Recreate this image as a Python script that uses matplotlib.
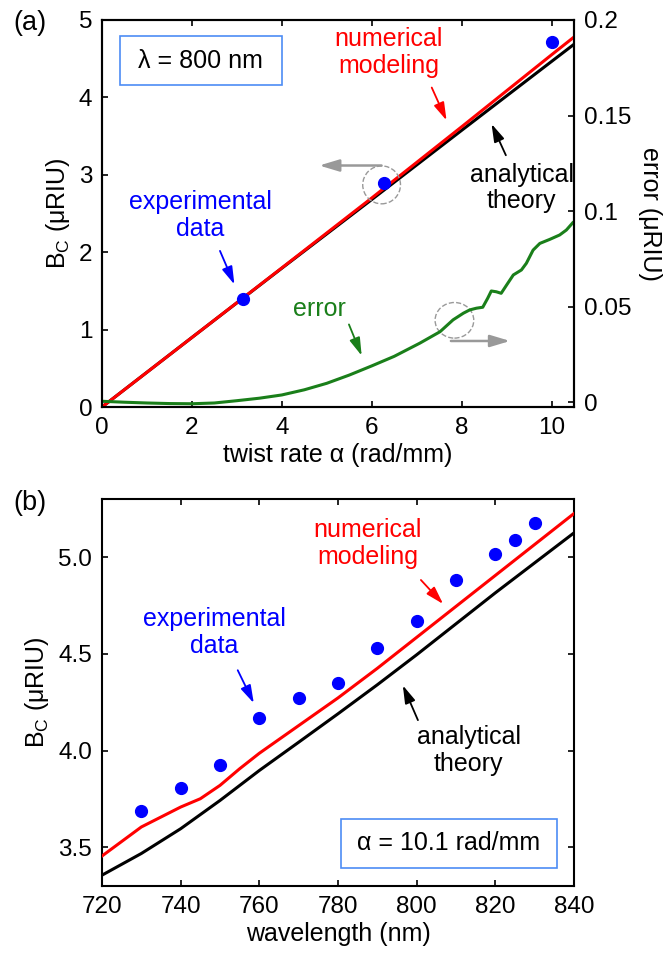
import matplotlib
matplotlib.use('Agg')
import matplotlib.pyplot as plt
from matplotlib.patches import Ellipse, Rectangle

plt.rcParams['font.family'] = ['Liberation Sans', 'DejaVu Sans']
plt.rcParams['mathtext.fontset'] = 'custom'
plt.rcParams['mathtext.rm'] = 'Liberation Sans'
plt.rcParams['font.size'] = 18

# panel (a): B_c versus twist rate at 800 nm
alpha_num = [0, 2, 4, 6, 8, 10, 10.5]
bc_num = [0, 0.898, 1.797, 2.70, 3.62, 4.55, 4.78]
alpha_ana = [0, 2, 4, 6, 8, 10, 10.5]
bc_ana = [0, 0.898, 1.793, 2.68, 3.574, 4.464, 4.686]
alpha_exp = [3.14, 6.28, 10.0]
bc_exp = [1.40, 2.89, 4.72]

alpha_err = [0, 0.5, 1, 1.5, 2, 2.5, 3, 3.5, 4, 4.5, 5, 5.5, 6, 6.5, 7.07, 7.52,
             7.81, 8.04, 8.18, 8.33, 8.47, 8.58, 8.66, 8.77, 8.88, 9.0, 9.15,
             9.33, 9.44, 9.59, 9.74, 9.96, 10.18, 10.33, 10.48, 10.5]
err = [0.0005, 0.0, -0.0004, -0.0007, -0.0008, -0.0004, 0.0008, 0.0021, 0.0038,
       0.0065, 0.0099, 0.0142, 0.019, 0.024, 0.0309, 0.0369, 0.0431, 0.0466,
       0.0483, 0.0492, 0.0497, 0.0544, 0.0582, 0.0578, 0.0570, 0.0613, 0.0666,
       0.0692, 0.0727, 0.0796, 0.0831, 0.0852, 0.0875, 0.0901, 0.0941, 0.0944]

# panel (b): B_c versus wavelength at 10.1 rad/mm
wl_num = [720, 730, 740, 745, 750, 755, 760, 770, 780, 790, 800, 810, 820, 830, 840]
bc_num_b = [3.455, 3.605, 3.708, 3.751, 3.82, 3.906, 3.986, 4.129, 4.272,
            4.425, 4.585, 4.745, 4.905, 5.065, 5.225]
wl_ana = [720, 730, 740, 750, 760, 770, 780, 790, 800, 810, 820, 830, 840]
bc_ana_b = [3.356, 3.468, 3.596, 3.742, 3.897, 4.043, 4.19, 4.34, 4.495,
            4.655, 4.815, 4.97, 5.125]
wl_exp = [730, 740, 750, 760, 770, 780, 790, 800, 810, 820, 825, 830]
bc_exp_b = [3.69, 3.805, 3.925, 4.17, 4.27, 4.35, 4.53, 4.67, 4.88, 5.015, 5.09, 5.175]

RED = '#ff0000'
BLUE = '#0000ff'
GREEN = '#1a7f1a'
GREY = '#999999'
BOXBLUE = '#4d8cf5'

fig = plt.figure(figsize=(6.67, 9.55), dpi=100)
ax1 = fig.add_axes([102 / 667, 1 - 407 / 955, 472 / 667, 387 / 955])
ax2 = fig.add_axes([102 / 667, 1 - 886 / 955, 472 / 667, 387 / 955])


def style(ax):
    for s in ax.spines.values():
        s.set_linewidth(1.5)
    ax.tick_params(direction='in', length=4, width=1.2, labelsize=17.5, pad=7)


def arrow(ax, head, tail, color, lw=1.3, ms=18):
    ax.annotate('', xy=head, xytext=tail,
                arrowprops=dict(arrowstyle='-|>,head_length=0.6,head_width=0.18',
                                color=color, lw=lw, mutation_scale=ms))


# ---- panel (a)
ax1.plot(alpha_ana, bc_ana, color='black', lw=2.2, zorder=3)
ax1.plot(alpha_num, bc_num, color=RED, lw=2.2, zorder=4)
ax1.plot(alpha_exp, bc_exp, 'o', color=BLUE, ms=8.5, zorder=5)
ax1.set_xlim(0, 10.5)
ax1.set_ylim(0, 5)
ax1.set_xticks([0, 2, 4, 6, 8, 10])
ax1.set_yticks([0, 1, 2, 3, 4, 5])
style(ax1)
ax1.tick_params(top=True)
ax1.set_xlabel('twist rate α (rad/mm)', labelpad=3)
ax1.set_ylabel(r'B$_\mathrm{C}$ (μRIU)', labelpad=5)

ax1r = ax1.twinx()
ax1r.plot(alpha_err, err, color=GREEN, lw=2.2)
ax1r.set_ylim(-0.0025, 0.2)
ax1r.set_yticks([0, 0.05, 0.1, 0.15, 0.2])
ax1r.set_yticklabels(['0', '0.05', '0.1', '0.15', '0.2'])
style(ax1r)
ax1r.set_ylabel('error (μRIU)', rotation=270, labelpad=22)

ax1.add_patch(Rectangle((0.40, 4.16), 3.6, 0.63, fill=False, ec=BOXBLUE, lw=1.2, zorder=6))
ax1.text(2.2, 4.47, 'λ = 800 nm', ha='center', va='center')

ax1.text(6.38, 4.58, 'numerical\nmodeling', color=RED, ha='center', va='center',
         linespacing=1.15)
arrow(ax1, (7.69, 3.67), (7.31, 4.16), RED)
ax1.text(9.34, 2.83, 'analytical\ntheory', color='black', ha='center', va='center',
         linespacing=1.15)
arrow(ax1, (8.64, 3.69), (9.01, 3.22), 'black')
ax1.text(2.18, 2.47, 'experimental\ndata', color=BLUE, ha='center', va='center',
         linespacing=1.15)
arrow(ax1, (2.97, 1.55), (2.60, 2.05), BLUE)
ax1.text(4.83, 1.27, 'error', color=GREEN, ha='center', va='center')
arrow(ax1, (5.80, 0.63), (5.47, 1.10), GREEN)

ax1.add_patch(Ellipse((6.22, 2.87), 0.84, 0.49, fill=False, ec=GREY, ls='--', lw=1.0, zorder=6))
arrow(ax1, (4.77, 3.12), (6.28, 3.12), GREY, lw=1.8, ms=20)
ax1.add_patch(Ellipse((7.84, 1.12), 0.86, 0.46, fill=False, ec=GREY, ls='--', lw=1.0, zorder=6))
arrow(ax1, (9.14, 0.853), (7.70, 0.853), GREY, lw=1.8, ms=20)

fig.text(30 / 667, 1 - 23 / 955, '(a)', ha='center', va='center', fontsize=19.5)

# ---- panel (b)
ax2.plot(wl_ana, bc_ana_b, color='black', lw=2.2, zorder=3)
ax2.plot(wl_num, bc_num_b, color=RED, lw=2.2, zorder=4)
ax2.plot(wl_exp, bc_exp_b, 'o', color=BLUE, ms=8.5, zorder=5)
ax2.set_xlim(720, 840)
ax2.set_ylim(3.3, 5.3)
ax2.set_xticks(range(720, 841, 20))
ax2.set_yticks([3.5, 4.0, 4.5, 5.0])
ax2.set_yticklabels(['3.5', '4.0', '4.5', '5.0'])
style(ax2)
ax2.tick_params(top=True, right=True)
ax2.set_xlabel('wavelength (nm)', labelpad=3)
ax2.set_ylabel(r'B$_\mathrm{C}$ (μRIU)', labelpad=5)

ax2.text(787.5, 5.072, 'numerical\nmodeling', color=RED, ha='center', va='center',
         linespacing=1.15)
arrow(ax2, (807.2, 4.747), (800.6, 4.892), RED)
ax2.text(813.2, 4.0, 'analytical\ntheory', color='black', ha='center', va='center',
         linespacing=1.15)
arrow(ax2, (796.2, 4.35), (800.6, 4.144), 'black')
ax2.text(748.6, 4.608, 'experimental\ndata', color=BLUE, ha='center', va='center',
         linespacing=1.15)
arrow(ax2, (758.9, 4.232), (754.2, 4.428), BLUE)

ax2.add_patch(Rectangle((780.8, 3.392), 54.8, 0.252, fill=False, ec=BOXBLUE, lw=1.2, zorder=6))
ax2.text(808.2, 3.52, 'α = 10.1 rad/mm', ha='center', va='center')

fig.text(30 / 667, 1 - 503 / 955, '(b)', ha='center', va='center', fontsize=19.5)

fig.savefig('out.png', dpi=100)
